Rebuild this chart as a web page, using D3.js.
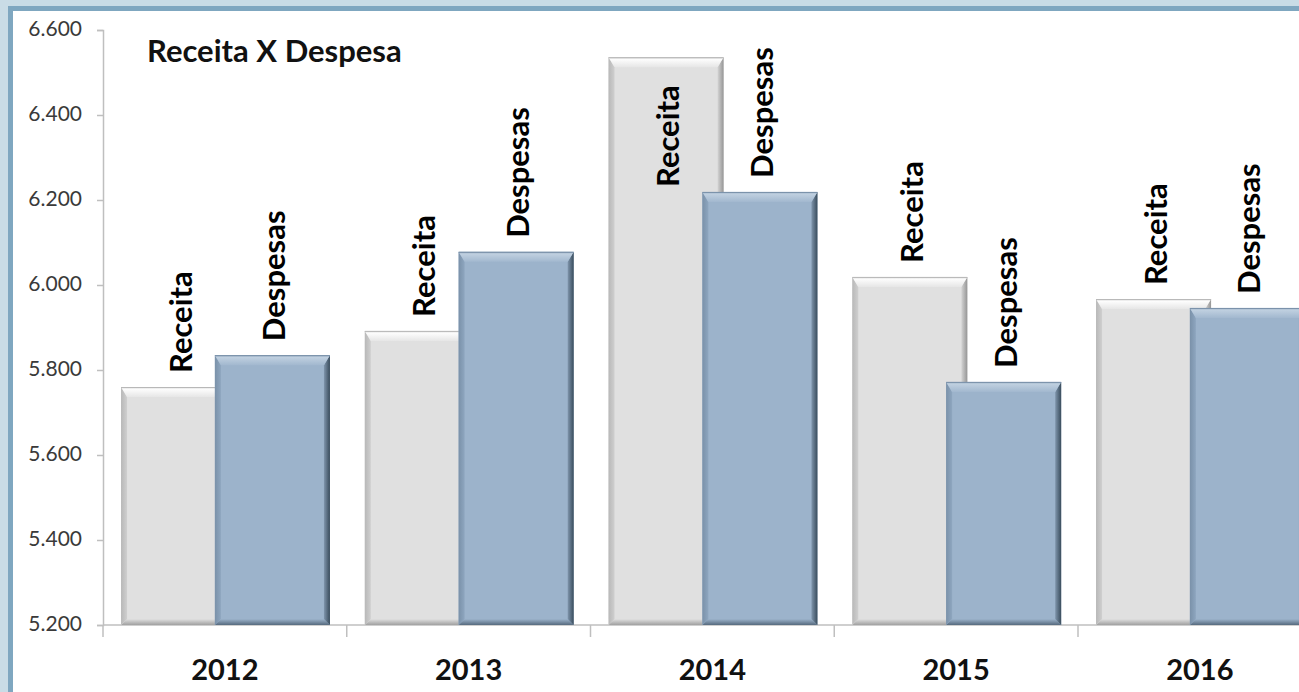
<!DOCTYPE html>
<html>
<head>
<meta charset="utf-8">
<script src="https://cdn.jsdelivr.net/npm/d3@7/dist/d3.min.js"></script>
<style>
  html, body { margin: 0; padding: 0; background: #ffffff; overflow: hidden; }
  svg { display: block; }
  text { font-family: "Lato", "Noto Sans", sans-serif; }
</style>
</head>
<body>
<svg id="chart" width="1299" height="692"></svg>
<script>
// Receita x Despesa, 2012–2016
const years = ["2012", "2013", "2014", "2015", "2016"];
const receita = [5760, 5892, 6536, 6019, 5967];
const despesas = [5835, 6078, 6219, 5772, 5946];
const seriesNames = ["Receita", "Despesas"];
const yTicks = [5200, 5400, 5600, 5800, 6000, 6200, 6400, 6600];
const title = "Receita X Despesa";

const svg = d3.select("#chart");
const W = 1299, H = 692;

// panel frame: only the left and top sides are visible
svg.append("rect").attr("x", 0).attr("y", 0).attr("width", W).attr("height", H).attr("fill", "#c9dce6");
svg.append("rect").attr("x", 8).attr("y", 6).attr("width", W).attr("height", H).attr("fill", "#7fa7c0");
svg.append("rect").attr("x", 13).attr("y", 11).attr("width", W).attr("height", H).attr("fill", "#ffffff");

const plot = { left: 103, top: 30, bottom: 625 };
const step = 243.75;

const x = d3.scaleBand().domain(years).range([plot.left, plot.left + step * years.length]).padding(0);
const y = d3.scaleLinear().domain([5200, 6600]).range([plot.bottom, plot.top]);

const locale = d3.formatLocale({ decimal: ",", thousands: ".", grouping: [3], currency: ["R$", ""] });
const fmt = locale.format(",.0f");

// gradients for the bevelled bars
const defs = svg.append("defs");
function grad(id, x2, y2, stops) {
  const g = defs.append("linearGradient").attr("id", id)
    .attr("x1", 0).attr("y1", 0).attr("x2", x2).attr("y2", y2);
  stops.forEach(s => g.append("stop").attr("offset", s[0]).attr("stop-color", s[1]));
}
const palettes = {
  Receita: { base: "#e0e0e0", top: ["#c4c4c4", "#fdfdfd", "#e6e6e6"], left: "#cfcfcf", right: ["#d4d4d4", "#959595"], bottom: "#a0a0a0", edge: "#b8b8b8" },
  Despesas: { base: "#9cb3cb", top: ["#8aa1b9", "#c0d0e0", "#a2b8cf"], left: "#8ea6bf", right: ["#7f95ac", "#394c5c"], bottom: "#566a7e", edge: "#7a91a9" }
};
Object.entries(palettes).forEach(([k, p]) => {
  grad("top-" + k, 0, 1, [[0, p.top[0]], [0.2, p.top[1]], [1, p.top[2]]]);
  grad("right-" + k, 1, 0, [[0, p.right[0]], [1, p.right[1]]]);
  grad("bottom-" + k, 0, 1, [[0, p.base], [1, p.bottom]]);
  grad("left-" + k, 1, 0, [[0, p.edge], [1, p.left]]);
});

// axes
const axisColor = "#bfbfbf";
const yAxis = svg.append("g").attr("transform", `translate(${plot.left},0)`)
  .call(d3.axisLeft(y).tickValues(yTicks).tickFormat(fmt).tickSize(6).tickPadding(15));
yAxis.select(".domain").attr("stroke", axisColor).attr("stroke-width", 1.5);
yAxis.selectAll(".tick line").attr("stroke", axisColor).attr("stroke-width", 1.5);
yAxis.selectAll(".tick text").attr("fill", "#3a3a3a").style("font-size", "21px").attr("dy", "0.25em");

const xAxisG = svg.append("g").attr("transform", `translate(0,${plot.bottom})`);
xAxisG.append("line").attr("x1", plot.left).attr("x2", plot.left + step * years.length)
  .attr("stroke", axisColor).attr("stroke-width", 1.5);
const bounds = years.map(d => x(d)).concat([x(years[years.length - 1]) + x.bandwidth()]);
xAxisG.selectAll("line.tk").data(bounds).join("line").attr("class", "tk")
  .attr("x1", d => d).attr("x2", d => d).attr("y1", 0).attr("y2", 12)
  .attr("stroke", axisColor).attr("stroke-width", 1.5);
xAxisG.selectAll("text.yr").data(years).join("text").attr("class", "yr")
  .attr("x", d => x(d) + x.bandwidth() / 2).attr("y", 55)
  .attr("text-anchor", "middle").attr("font-weight", "bold").style("font-size", "29px")
  .attr("fill", "#111").text(d => d);

// bar geometry inside each year band
const inset = 0.074, barFrac = 0.472, offsetFrac = 0.385;
const bw = x.bandwidth() * barFrac;
const rows = [];
years.forEach((yr, i) => {
  rows.push({ year: yr, series: "Receita", value: receita[i], x0: x(yr) + x.bandwidth() * inset });
  rows.push({ year: yr, series: "Despesas", value: despesas[i], x0: x(yr) + x.bandwidth() * (inset + offsetFrac) });
});

function drawBar(g, d) {
  const x0 = d.x0, y0 = y(d.value), w = bw, h = y(5200) - y(d.value);
  const k = d.series, p = palettes[k];
  const bt = 10, bs = 6, bb = 6;
  g.append("rect").attr("x", x0).attr("y", y0).attr("width", w).attr("height", h).attr("fill", p.base);
  g.append("polygon").attr("points", [[x0, y0 + h], [x0 + w, y0 + h], [x0 + w - bs, y0 + h - bb], [x0 + bs, y0 + h - bb]].join(" "))
    .attr("fill", `url(#bottom-${k})`);
  g.append("polygon").attr("points", [[x0, y0], [x0 + bs, y0 + bt], [x0 + bs, y0 + h - bb], [x0, y0 + h]].join(" "))
    .attr("fill", `url(#left-${k})`);
  g.append("polygon").attr("points", [[x0 + w, y0], [x0 + w, y0 + h], [x0 + w - bs, y0 + h - bb], [x0 + w - bs, y0 + bt]].join(" "))
    .attr("fill", `url(#right-${k})`);
  g.append("polygon").attr("points", [[x0, y0], [x0 + w, y0], [x0 + w - bs, y0 + bt], [x0 + bs, y0 + bt]].join(" "))
    .attr("fill", `url(#top-${k})`);
  g.append("line").attr("x1", x0).attr("x2", x0 + w).attr("y1", y0 + 0.5).attr("y2", y0 + 0.5)
    .attr("stroke", p.edge).attr("stroke-width", 1);
}

const barsG = svg.append("g");
years.forEach(yr => {
  rows.filter(r => r.year === yr).forEach(r => drawBar(barsG.append("g").attr("class", "bar"), r));
});

// series labels, rotated; placed inside the bar end when there's no room above
const labelG = svg.append("g");
const gap = 14;
rows.forEach(d => {
  const cx = d.x0 + bw / 2 + 13;
  const top = y(d.value);
  const t = labelG.append("text").attr("font-weight", "bold").style("font-size", "31px")
    .attr("fill", "#000").text(d.series);
  const len = t.node().getComputedTextLength();
  let ly, anchor;
  if (top - gap - len < plot.top - 12) { ly = top + 28; anchor = "end"; }
  else { ly = top - gap; anchor = "start"; }
  t.attr("text-anchor", anchor).attr("transform", `translate(${cx},${ly}) rotate(-90)`);
});

// title
svg.append("text").attr("x", 147).attr("y", 62).attr("font-weight", "bold")
  .style("font-size", "31px").attr("fill", "#111").text(title);
</script>
</body>
</html>
